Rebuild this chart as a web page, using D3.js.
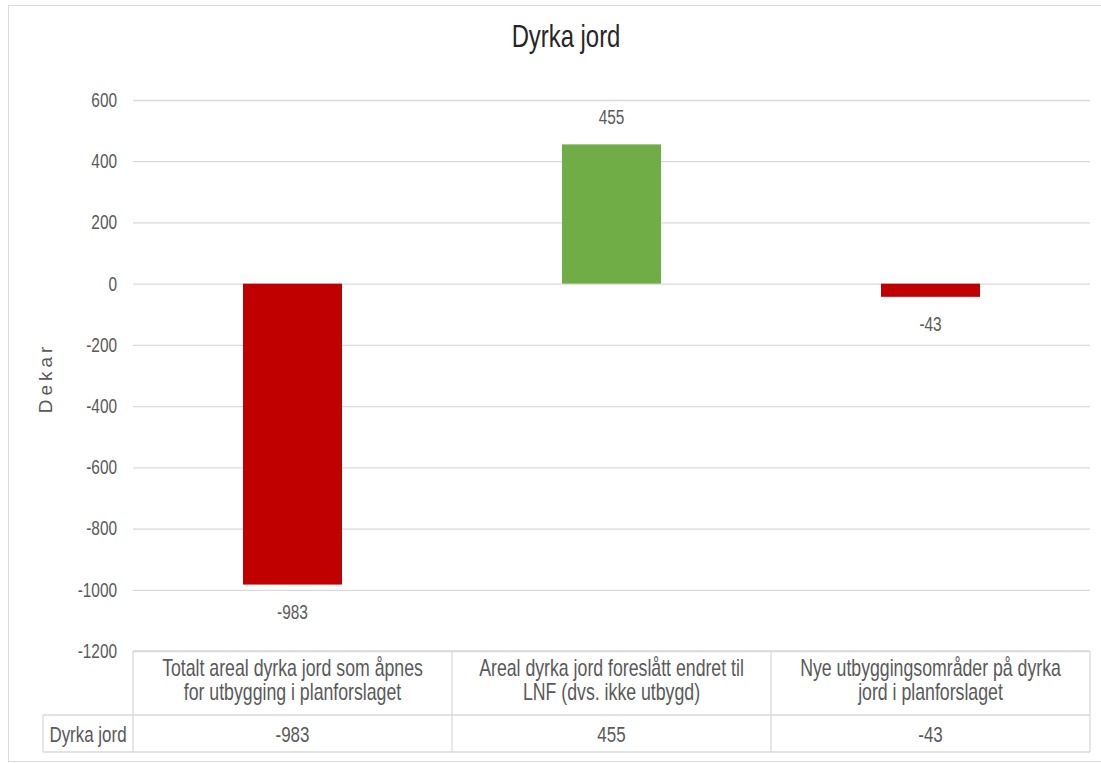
<!DOCTYPE html>
<html>
<head>
<meta charset="utf-8">
<script src="https://cdn.jsdelivr.net/npm/d3@7"></script>
<style>
  body { margin: 0; background: #fff; }
  text { font-family: "Liberation Sans", Arial, sans-serif; fill: #595959; }
</style>
</head>
<body>
<div id="chart"></div>
<script>
// data
const categories = [
  ["Totalt areal dyrka jord som åpnes", "for utbygging i planforslaget"],
  ["Areal dyrka jord foreslått endret til", "LNF (dvs. ikke utbygd)"],
  ["Nye utbyggingsområder på dyrka", "jord i planforslaget"]
];
const values = [-983, 455, -43];
const barColors = ["#c00000", "#70ad47", "#c00000"];
const yTicks = [600, 400, 200, 0, -200, -400, -600, -800, -1000, -1200];
const seriesName = "Dyrka jord";

const W = 1101, H = 763;
const margin = { top: 100, left: 133, right: 11 };
const plotBottom = 651;
const rowH = 37, headerH = 64;
const SQ = 0.77; // the source text is horizontally squeezed

const svg = d3.select("#chart").append("svg")
  .attr("width", W).attr("height", H);

// squeezed text helper
function sqText(parent, px, py, size, str) {
  return parent.append("text")
    .attr("transform", `translate(${px},${py}) scale(${SQ},1)`)
    .attr("text-anchor", "middle")
    .attr("font-size", size)
    .text(str);
}

// outer chart border
svg.append("rect")
  .attr("x", 8.5).attr("y", 5.5)
  .attr("width", W).attr("height", 756)
  .attr("fill", "none").attr("stroke", "#d9d9d9");

const x = d3.scaleBand()
  .domain(d3.range(values.length))
  .range([margin.left, W - margin.right])
  .paddingInner(0).paddingOuter(0);

const y = d3.scaleLinear().domain([-1200, 600]).range([plotBottom, margin.top]);

// gridlines + tick labels
svg.append("g")
  .attr("transform", `translate(${margin.left},0)`)
  .call(d3.axisLeft(y).tickValues(yTicks).tickSize(-(W - margin.right - margin.left)).tickFormat(d => d).tickPadding(16))
  .call(g => g.select(".domain").remove())
  .call(g => g.selectAll(".tick line").attr("stroke", "#d9d9d9").attr("stroke-width", 1.3))
  .call(g => g.selectAll(".tick text")
    .attr("font-size", 20)
    .attr("x", -16 / SQ)
    .attr("transform", `scale(${SQ},1)`)
    .style("fill", "#595959")
    .style("font-family", "'Liberation Sans', sans-serif"));

// bars
const barW = 99;
svg.selectAll(".bar")
  .data(values)
  .enter().append("rect")
  .attr("class", "bar")
  .attr("x", (d, i) => x(i) + x.bandwidth() / 2 - barW / 2)
  .attr("width", barW)
  .attr("y", d => y(Math.max(0, d)))
  .attr("height", d => Math.abs(y(d) - y(0)))
  .attr("fill", (d, i) => barColors[i]);

// data labels
values.forEach((d, i) => {
  sqText(svg, x(i) + x.bandwidth() / 2, d >= 0 ? y(d) - 20 : y(d) + 34, 20, d);
});

// title
sqText(svg, 566, 47, 31, seriesName).style("fill", "#262626");

// y axis title
svg.append("text")
  .attr("transform", "translate(52,378) rotate(-90)")
  .attr("text-anchor", "middle")
  .attr("font-size", 19)
  .attr("letter-spacing", 4)
  .text("Dekar");

// data table
const tbl = svg.append("g");
const lineC = "#d9d9d9";
const x0 = 43, x1 = W - margin.right;
const yH = plotBottom, yR = plotBottom + headerH, yB = yR + rowH;
[[margin.left, yH, x1, yH], [x0, yR, x1, yR], [x0, yB, x1, yB], [x0, yR, x0, yB]].forEach(l =>
  tbl.append("line").attr("x1", l[0]).attr("y1", l[1]).attr("x2", l[2]).attr("y2", l[3])
    .attr("stroke", lineC).attr("stroke-width", 1.3));
d3.range(values.length + 1).forEach(i => {
  const xx = i < values.length ? x(i) : x1;
  tbl.append("line").attr("x1", xx).attr("x2", xx).attr("y1", yH).attr("y2", yB)
    .attr("stroke", lineC).attr("stroke-width", 1.3);
});

categories.forEach((c, i) => {
  const cx = x(i) + x.bandwidth() / 2;
  c.forEach((ln, k) => sqText(tbl, cx, yH + 25 + k * 24, 23, ln));
  sqText(tbl, cx, yR + 27, 22, values[i]);
});

sqText(tbl, (x0 + margin.left) / 2, yR + 27, 22, seriesName);
</script>
</body>
</html>
